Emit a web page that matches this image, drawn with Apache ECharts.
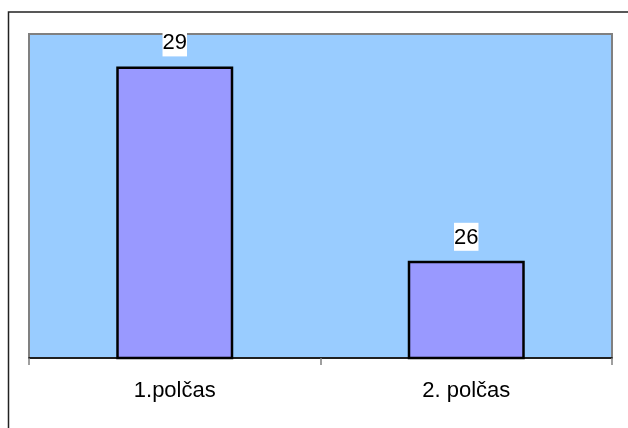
<!DOCTYPE html>
<html>
<head>
<meta charset="utf-8">
<script src="https://cdn.jsdelivr.net/npm/echarts@6/dist/echarts.min.js"></script>
<style>
html,body{margin:0;padding:0;background:#fff;}
#c{width:628px;height:428px;}
</style>
</head>
<body>
<div id="c"></div>
<script>
var categories = ['1.polčas', '2. polčas'];
var values = [29, 26];
var yMin = 24.5;
var yMax = 29.5;

var chart = echarts.init(document.getElementById('c'), null, {renderer: 'canvas'});
chart.setOption({
  animation: false,
  backgroundColor: '#ffffff',
  graphic: [{
    type: 'rect',
    shape: {x: 8.5, y: 12, width: 800, height: 600},
    style: {fill: 'none', stroke: '#222', lineWidth: 1.5},
    silent: true,
    z: 100
  }],
  grid: {
    left: 29, right: 16, top: 34, bottom: 70,
    show: true,
    backgroundColor: '#99CCFF',
    borderColor: '#808080',
    borderWidth: 2
  },
  xAxis: {
    type: 'category',
    data: categories,
    axisLine: {show: true, lineStyle: {color: '#000', width: 1.5}},
    axisTick: {show: true, alignWithLabel: false, length: 7, lineStyle: {color: '#808080', width: 1.5}},
    axisLabel: {color: '#000', fontFamily: 'Liberation Sans, Arial, sans-serif', fontSize: 22, margin: 22},
    splitLine: {show: false}
  },
  yAxis: {
    type: 'value',
    min: yMin,
    max: yMax,
    show: false,
    splitLine: {show: false}
  },
  series: [{
    type: 'bar',
    data: values,
    barWidth: 117,
    itemStyle: {color: '#9999FF', borderColor: '#000', borderWidth: 2.5},
    label: {
      show: true,
      position: 'top',
      distance: 10,
      color: '#000',
      fontFamily: 'Liberation Sans, Arial, sans-serif',
      fontSize: 22,
      backgroundColor: '#ffffff',
      padding: [4, 0, 2, 0],
      lineHeight: 22
    }
  }]
});
</script>
</body>
</html>
